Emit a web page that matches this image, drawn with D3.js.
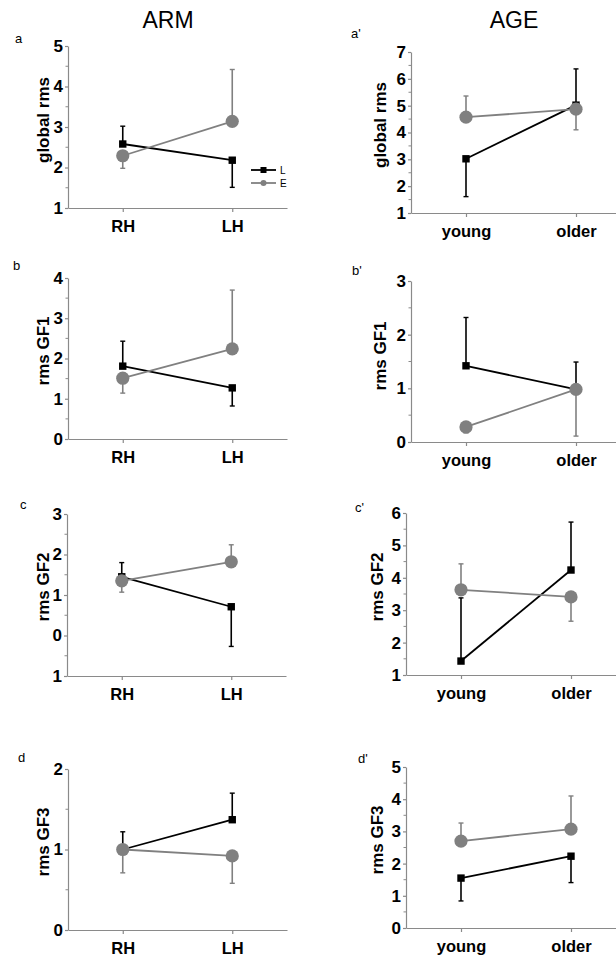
<!DOCTYPE html>
<head>
  <meta charset="utf-8">
  <title>rms by ARM and AGE</title>
  <script src="https://d3js.org/d3.v7.min.js"></script>
  <style>
  body { margin: 0; background: #fff; }
  svg text { font-family: "Liberation Sans", Arial, sans-serif; }
  .axis path, .axis line { stroke: #8a8a8a; stroke-width: 1.2px; }
  .axis text { fill: #000; font-weight: bold; font-size: 17px; }
  </style>
</head>
<body>
<script type="text/javascript">
  var WIDTH = 616;
  var HEIGHT = 960;

  // categories
  var armCats = ["RH", "LH"];
  var ageCats = ["young", "older"];

  // series values (L = black squares, E = grey circles) and error bar ends
  var aL = [2.58, 2.18],  aLErr = [3.02, 1.51];
  var aE = [2.29, 3.14],  aEErr = [1.98, 4.42];
  var apL = [3.02, 5.02], apLErr = [1.61, 6.37];
  var apE = [4.57, 4.87], apEErr = [5.36, 4.10];
  var bL = [1.81, 1.27],  bLErr = [2.43, 0.82];
  var bE = [1.51, 2.24],  bEErr = [1.14, 3.70];
  var bpL = [1.42, 0.98], bpLErr = [2.32, 1.49];
  var bpE = [0.28, 0.98], bpEErr = [0.17, 0.11];
  var cL = [1.45, 0.71],  cLErr = [1.80, -0.27];
  var cE = [1.35, 1.82],  cEErr = [1.07, 2.24];
  var cpL = [1.43, 4.24], cpLErr = [3.38, 5.72];
  var cpE = [3.63, 3.41], cpEErr = [4.43, 2.66];
  var dL = [1.00, 1.37],  dLErr = [1.22, 1.70];
  var dE = [1.00, 0.92],  dEErr = [0.71, 0.58];
  var dpL = [1.55, 2.23], dpLErr = [0.84, 1.41];
  var dpE = [2.70, 3.07], dpEErr = [3.26, 4.10];

  // tick values and labels
  var aTicks = [1, 2, 3, 4, 5];
  var apTicks = [1, 2, 3, 4, 5, 6, 7];
  var bTicks = [0, 1, 2, 3, 4];
  var bpTicks = [0, 1, 2, 3];
  var cTicks = [-1, 0, 1, 2, 3];
  var cTickLabels = ["1", "0", "1", "2", "3"];
  var cpTicks = [1, 2, 3, 4, 5, 6];
  var dTicks = [0, 1, 2];
  var dpTicks = [0, 1, 2, 3, 4, 5];

  var columnTitles = ["ARM", "AGE"];
  var legendNames = ["L", "E"];

  var BLACK = "#000";
  var GREY = "#808080";

  var panels = [
    {tag: "a",  cats: armCats, L: aL,  LErr: aLErr,  E: aE,  EErr: aEErr,  ticks: aTicks,  ylab: "global rms",
     x0: 68,  x1: 287, top: 46,  bot: 208, tagX: 15,  tagY: 43,  labX: 43,  labY: 120},
    {tag: "a'", cats: ageCats, L: apL, LErr: apLErr, E: apE, EErr: apEErr, ticks: apTicks, ylab: "global rms",
     x0: 411, x1: 631, top: 52,  bot: 213, tagX: 351, tagY: 38,  labX: 380, labY: 125},
    {tag: "b",  cats: armCats, L: bL,  LErr: bLErr,  E: bE,  EErr: bEErr,  ticks: bTicks,  ylab: "rms GF1",
     x0: 68,  x1: 287, top: 278, bot: 439, tagX: 13,  tagY: 270, labX: 43,  labY: 351},
    {tag: "b'", cats: ageCats, L: bpL, LErr: bpLErr, E: bpE, EErr: bpEErr, ticks: bpTicks, ylab: "rms GF1",
     x0: 411, x1: 631, top: 281, bot: 442, tagX: 352, tagY: 275, labX: 380, labY: 356},
    {tag: "c",  cats: armCats, L: cL,  LErr: cLErr,  E: cE,  EErr: cEErr,  ticks: cTicks,  ylab: "rms GF2",
     x0: 67,  x1: 286, top: 514, bot: 676, tagX: 20,  tagY: 509, labX: 43,  labY: 587, tickLabels: cTickLabels},
    {tag: "c'", cats: ageCats, L: cpL, LErr: cpLErr, E: cpE, EErr: cpEErr, ticks: cpTicks, ylab: "rms GF2",
     x0: 406, x1: 626, top: 513, bot: 675, tagX: 355, tagY: 512, labX: 377, labY: 587},
    {tag: "d",  cats: armCats, L: dL,  LErr: dLErr,  E: dE,  EErr: dEErr,  ticks: dTicks,  ylab: "rms GF3",
     x0: 68,  x1: 287, top: 769, bot: 930, tagX: 18,  tagY: 762, labX: 43,  labY: 842},
    {tag: "d'", cats: ageCats, L: dpL, LErr: dpLErr, E: dpE, EErr: dpEErr, ticks: dpTicks, ylab: "rms GF3",
     x0: 406, x1: 626, top: 767, bot: 928, tagX: 358, tagY: 763, labX: 377, labY: 840}
  ];

  var svg = d3.select("body").append("svg")
              .attr("width", WIDTH)
              .attr("height", HEIGHT);

  // column titles
  svg.selectAll(".coltitle")
    .data(columnTitles)
    .enter()
    .append("text")
    .attr("class", "coltitle")
    .attr("x", function(d, i){ return i === 0 ? 168 : 514; })
    .attr("y", 28)
    .attr("text-anchor", "middle")
    .style("font-size", "23px")
    .text(function(d){ return d; });

  panels.forEach(function(p){
    var x = d3.scalePoint().domain(p.cats).range([p.x0, p.x1]).padding(0.5);
    var ext = d3.extent(p.ticks);
    var y = d3.scaleLinear().domain(ext).range([p.bot, p.top]);

    var g = svg.append("g");

    // minor ticks half way between majors
    var minors = d3.range(ext[0] + 0.5, ext[1], 1);
    g.selectAll(".minor")
      .data(minors)
      .enter()
      .append("line")
      .attr("x1", p.x0 - 2.5).attr("x2", p.x0)
      .attr("y1", function(d){ return y(d); })
      .attr("y2", function(d){ return y(d); })
      .attr("stroke", "#8a8a8a")
      .attr("stroke-width", 1);

    var yAxis = d3.axisLeft(y)
                  .tickValues(p.ticks)
                  .tickSizeInner(3)
                  .tickSizeOuter(0)
                  .tickPadding(2)
                  .tickFormat(function(d, i){ return p.tickLabels ? p.tickLabels[i] : d; });
    g.append("g")
      .attr("class", "axis")
      .attr("transform", "translate(" + p.x0 + ",0)")
      .call(yAxis);

    var xAxis = d3.axisBottom(x).tickSizeInner(4).tickSizeOuter(0).tickPadding(8);
    var xg = g.append("g")
      .attr("class", "axis")
      .attr("transform", "translate(0," + p.bot + ")")
      .call(xAxis);
    xg.selectAll("text").style("font-size", "16.5px");

    // panel letter
    g.append("text")
      .attr("x", p.tagX).attr("y", p.tagY)
      .style("font-size", "13px")
      .text(p.tag);

    // y axis label
    g.append("text")
      .attr("transform", "translate(" + p.labX + "," + p.labY + ") rotate(-90)")
      .attr("text-anchor", "middle")
      .attr("dy", "0.35em")
      .style("font-size", "17px")
      .style("font-weight", "bold")
      .text(p.ylab);

    var series = [
      {name: "L", vals: p.L, err: p.LErr, color: BLACK},
      {name: "E", vals: p.E, err: p.EErr, color: GREY}
    ];

    series.forEach(function(s){
      var pts = p.cats.map(function(c, i){ return {c: c, v: s.vals[i], e: s.err[i]}; });

      // error bars
      var eb = g.append("g");
      eb.selectAll(".whisker")
        .data(pts)
        .enter()
        .append("line")
        .attr("x1", function(d){ return x(d.c); })
        .attr("x2", function(d){ return x(d.c); })
        .attr("y1", function(d){ return y(d.v); })
        .attr("y2", function(d){ return y(d.e); })
        .attr("stroke", s.color)
        .attr("stroke-width", 1.6);
      eb.selectAll(".cap")
        .data(pts)
        .enter()
        .append("line")
        .attr("x1", function(d){ return x(d.c) - 2.5; })
        .attr("x2", function(d){ return x(d.c) + 2.5; })
        .attr("y1", function(d){ return y(d.e); })
        .attr("y2", function(d){ return y(d.e); })
        .attr("stroke", s.color)
        .attr("stroke-width", 1.4);

      var line = d3.line()
                   .x(function(d){ return x(d.c); })
                   .y(function(d){ return y(d.v); });
      g.append("path")
        .datum(pts)
        .attr("d", line)
        .attr("fill", "none")
        .attr("stroke", s.color)
        .attr("stroke-width", 1.8);

      if(s.name === "L"){
        g.selectAll(".sq")
          .data(pts)
          .enter()
          .append("rect")
          .attr("x", function(d){ return x(d.c) - 3.7; })
          .attr("y", function(d){ return y(d.v) - 3.7; })
          .attr("width", 7.4).attr("height", 7.4)
          .attr("fill", BLACK);
      } else {
        g.selectAll(".dot")
          .data(pts)
          .enter()
          .append("circle")
          .attr("cx", function(d){ return x(d.c); })
          .attr("cy", function(d){ return y(d.v); })
          .attr("r", 6.6)
          .attr("fill", GREY);
      }
    });
  });

  // legend in panel a
  var leg = svg.append("g").selectAll("g")
               .data(legendNames)
               .enter()
               .append("g")
               .attr("transform", function(d, i){ return "translate(251," + (170 + i * 13) + ")"; });
  leg.append("line")
    .attr("x1", 0).attr("x2", 25)
    .attr("stroke", function(d, i){ return i === 0 ? BLACK : GREY; })
    .attr("stroke-width", 1.8);
  leg.each(function(d, i){
    var s = d3.select(this);
    if(i === 0){
      s.append("rect").attr("x", 9.5).attr("y", -3).attr("width", 6).attr("height", 6).attr("fill", BLACK);
    } else {
      s.append("circle").attr("cx", 12.5).attr("r", 3).attr("fill", GREY);
    }
  });
  leg.append("text")
    .attr("x", 29)
    .attr("dy", "0.35em")
    .style("font-size", "10px")
    .text(function(d){ return d; });
</script>
</body>
